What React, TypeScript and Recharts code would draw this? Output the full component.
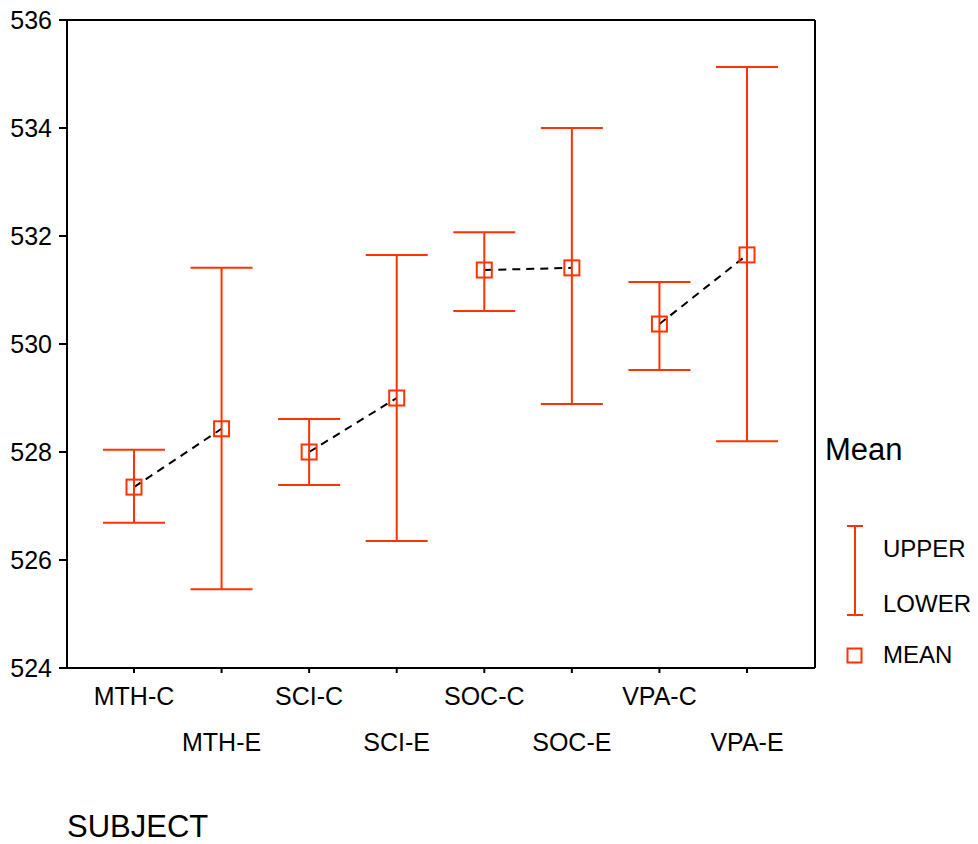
import {
  ComposedChart,
  Scatter,
  Line,
  ErrorBar,
  XAxis,
  YAxis,
} from 'recharts'

const subjects = ['MTH-C', 'MTH-E', 'SCI-C', 'SCI-E', 'SOC-C', 'SOC-E', 'VPA-C', 'VPA-E']
const means = [527.35, 528.43, 528.0, 529.0, 531.37, 531.41, 530.37, 531.65]
const uppers = [528.04, 531.41, 528.61, 531.65, 532.07, 534.0, 531.15, 535.13]
const lowers = [526.69, 525.46, 527.39, 526.35, 530.61, 528.89, 529.52, 528.2]
const yTicks = [524, 526, 528, 530, 532, 534, 536]

const RED = '#ff3300'
const FONT = '"Liberation Sans", Arial, sans-serif'

// each C/E pair gets its own dashed line
const data = subjects.map((subject, i) => {
  const row: Record<string, any> = {
    subject,
    mean: means[i],
    err: [means[i] - lowers[i], uppers[i] - means[i]],
  }
  row[`pair${Math.floor(i / 2)}`] = means[i]
  return row
})

const SquareDot = (props: any) => {
  const { cx, cy } = props
  if (cx == null || cy == null) return null
  return <rect x={cx - 7.5} y={cy - 7.5} width={15} height={15} fill="none" stroke={RED} strokeWidth={2} />
}

const StaggerTick = (props: any) => {
  const { x, y, payload } = props
  const low = payload.index % 2 === 1
  return (
    <text x={x} y={y + (low ? 76 : 30)} textAnchor="middle" fontSize={25} fontFamily={FONT} fill="#000">
      {payload.value}
    </text>
  )
}

const YTick = (props: any) => {
  const { x, y, payload } = props
  return (
    <text x={x} y={y} dy={9} textAnchor="end" fontSize={25} fontFamily={FONT} fill="#000">
      {payload.value}
    </text>
  )
}

const axisStroke = { stroke: '#000', strokeWidth: 2 }

export default function App() {
  return (
    <div style={{ position: 'absolute', left: 0, top: 0, width: 978, height: 844, background: '#fff' }}>
      <ComposedChart
        width={978}
        height={844}
        data={data}
        margin={{ top: 19, right: 162, bottom: 76, left: 0 }}
      >
        <XAxis
          dataKey="subject"
          scale="point"
          padding={{ left: 67, right: 68 }}
          height={100}
          axisLine={axisStroke}
          tickLine={axisStroke}
          stroke="#000"
          tickSize={5}
          interval={0}
          tick={<StaggerTick />}
        />
        <XAxis
          xAxisId="top"
          dataKey="subject"
          orientation="top"
          scale="point"
          height={1}
          tick={false}
          tickLine={false}
          stroke="#000"
          axisLine={axisStroke}
        />
        <YAxis
          domain={[524, 536]}
          ticks={yTicks}
          width={67}
          tickSize={8}
          tickMargin={7}
          stroke="#000"
          axisLine={axisStroke}
          tickLine={axisStroke}
          tick={<YTick />}
        />
        <YAxis
          yAxisId="right"
          orientation="right"
          domain={[524, 536]}
          width={1}
          tick={false}
          tickLine={false}
          stroke="#000"
          axisLine={axisStroke}
        />
        {[0, 1, 2, 3].map(p => (
          <Line
            key={p}
            dataKey={`pair${p}`}
            stroke="#000"
            strokeWidth={2}
            strokeDasharray="8 6"
            dot={false}
            activeDot={false}
            connectNulls={false}
            isAnimationActive={false}
          />
        ))}
        <Scatter dataKey="mean" shape={<SquareDot />} isAnimationActive={false}>
          <ErrorBar dataKey="err" direction="y" width={31} stroke={RED} strokeWidth={2} />
        </Scatter>
      </ComposedChart>
      <svg
        width={978}
        height={844}
        style={{ position: 'absolute', left: 0, top: 0, pointerEvents: 'none' }}
      >
        <text x={825} y={460} fontSize={31} fontFamily={FONT} fill="#000">Mean</text>
        <line x1={855} y1={526} x2={855} y2={615} stroke={RED} strokeWidth={2} />
        <line x1={847} y1={526} x2={863} y2={526} stroke={RED} strokeWidth={2} />
        <line x1={847} y1={615} x2={863} y2={615} stroke={RED} strokeWidth={2} />
        <text x={883} y={557} fontSize={24} fontFamily={FONT} fill="#000">UPPER</text>
        <text x={883} y={612} fontSize={24} fontFamily={FONT} fill="#000">LOWER</text>
        <rect x={847.5} y={648.5} width={14} height={14} fill="none" stroke={RED} strokeWidth={2} />
        <text x={883} y={663} fontSize={24} fontFamily={FONT} fill="#000">MEAN</text>
        <text x={67} y={837} fontSize={31} fontFamily={FONT} fill="#000">SUBJECT</text>
      </svg>
    </div>
  )
}
